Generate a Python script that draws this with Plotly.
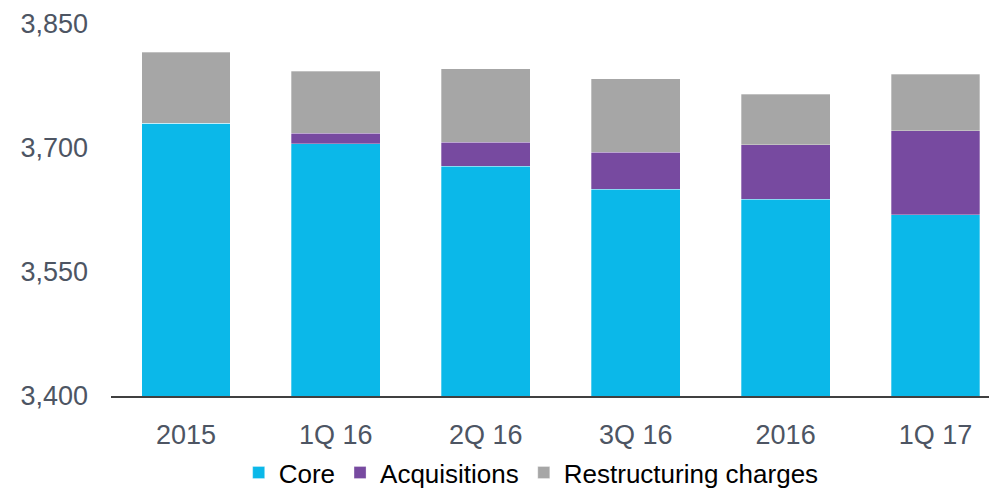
import plotly.graph_objects as go

categories = ["2015", "1Q 16", "2Q 16", "3Q 16", "2016", "1Q 17"]
core = [3730, 3705, 3678, 3650, 3638, 3619]
acquisitions = [0, 13, 29, 45, 66, 102]
restructuring = [86, 75, 89, 89, 61, 68]

y_ticks = [3400, 3550, 3700, 3850]

colors = {
    "Core": "#0BB8E9",
    "Acquisitions": "#774AA0",
    "Restructuring charges": "#A6A6A6",
}

fig = go.Figure()
for name, vals in [("Core", core), ("Acquisitions", acquisitions),
                   ("Restructuring charges", restructuring)]:
    fig.add_trace(go.Bar(
        x=categories, y=vals, name=name,
        marker=dict(color=colors[name], line=dict(width=0.6, color="rgba(255,255,255,0.5)")),
        width=0.593,
    ))

# page body has an 8px margin, so the figure is sized to fit the window
fig.update_layout(
    barmode="stack",
    width=989, height=484,
    margin=dict(l=103, r=0, t=16, b=96, autoexpand=False),
    paper_bgcolor="white",
    plot_bgcolor="white",
    font=dict(family="Liberation Sans, Arial", size=27, color="#4D5563"),
    showlegend=True,
    legend=dict(
        orientation="h", xref="container", x=0.529, xanchor="center",
        yref="container", y=0.04, yanchor="middle",
        font=dict(size=26, color="#000000"),
        itemwidth=30, traceorder="normal",
    ),
    xaxis=dict(
        range=[-0.5, 5.41], automargin=False,
        showline=True, linecolor="#404040", linewidth=1.5,
        ticks="", ticklabelstandoff=14,
        showgrid=False, zeroline=False,
    ),
    yaxis=dict(
        range=[3400, 3850], automargin=False,
        tickvals=y_ticks, tickformat=",d",
        showgrid=False, zeroline=False, showline=False,
        ticks="", ticklabelstandoff=22,
    ),
)

fig.write_html("out.html")
